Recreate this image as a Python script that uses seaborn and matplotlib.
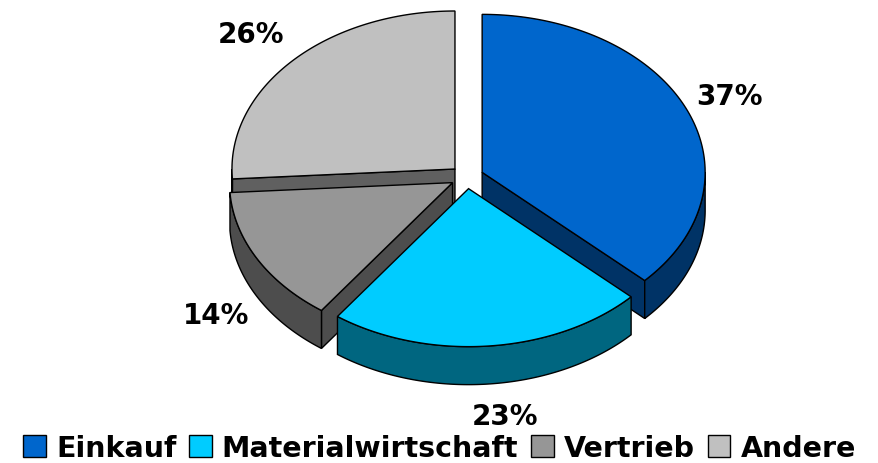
import numpy as np
import seaborn as sns
import matplotlib.pyplot as plt
from matplotlib.patches import Patch

# Data
categories = ['Einkauf', 'Materialwirtschaft', 'Vertrieb', 'Andere']
shares = [37, 23, 14, 26]
top_colors = ['#0066CC', '#00CCFF', '#969696', '#C0C0C0']
side_colors = ['#003366', '#006680', '#4D4D4D', '#606060']

# pie geometry, in pixels
cx, cy = 467, 178
rx, ry = 223, 158
depth = 38
explode = 0.074
label_pos = [(729, 97), (505, 417), (216, 316), (251, 35)]

sns.set_theme(style='white')
plt.rcParams['font.family'] = ['DejaVu Sans']
plt.rcParams['text.color'] = 'black'


def rim(start, end, ox, oy, dz=0):
    t = np.radians(np.linspace(start, end, 120))
    return ox + rx * np.sin(t), oy - ry * np.cos(t) + dz


def draw_slice(ax, start, end, top, side):
    mid = np.radians((start + end) / 2)
    ox = cx + explode * rx * np.sin(mid)
    oy = cy - explode * ry * np.cos(mid)
    # cut faces, only those turned towards the viewer
    for a, show in ((start, np.sin(np.radians(start)) < -1e-6),
                    (end, np.sin(np.radians(end)) > 1e-6)):
        if show:
            x, y = rim(a, a, ox, oy)
            ax.fill([ox, x[0], x[0], ox], [oy, y[0], y[0] + depth, oy + depth],
                    facecolor=side, edgecolor='black', lw=1.0)
    # outer wall, only the front half can be seen
    a0, a1 = max(start, 90), min(end, 270)
    if a1 > a0:
        x, y = rim(a0, a1, ox, oy)
        ax.fill(np.r_[x, x[::-1]], np.r_[y, y[::-1] + depth],
                facecolor=side, edgecolor='black', lw=1.0)
    x, y = rim(start, end, ox, oy)
    ax.fill(np.r_[ox, x], np.r_[oy, y], facecolor=top, edgecolor='black', lw=1.0)


fig = plt.figure(figsize=(8.79, 4.64), dpi=100)
ax = fig.add_axes([0, 0, 1, 1])
ax.set_xlim(0, 879)
ax.set_ylim(464, 0)
ax.axis('off')

edges = np.r_[0, np.cumsum(shares)] * 3.6
# back slices first so the front ones cover them
for i in [3, 0, 2, 1]:
    draw_slice(ax, edges[i], edges[i + 1], top_colors[i], side_colors[i])

for share, (lx, ly) in zip(shares, label_pos):
    ax.text(lx, ly, f'{share}%', ha='center', va='center', fontsize=20,
            fontweight='bold', color='black')

handles = [Patch(facecolor=c, edgecolor='black', lw=1.0) for c in top_colors]
leg = ax.legend(handles, categories, loc='lower center', bbox_to_anchor=(0.5, -0.003),
                ncol=4, frameon=True, fancybox=False, edgecolor='white', framealpha=1,
                fontsize=20.5, handlelength=0.8, handleheight=0.8, handletextpad=0.35,
                columnspacing=0.45, borderpad=0.1, borderaxespad=0)
for t in leg.get_texts():
    t.set_fontweight('bold')
    t.set_color('black')

fig.savefig('out.png', dpi=100)
